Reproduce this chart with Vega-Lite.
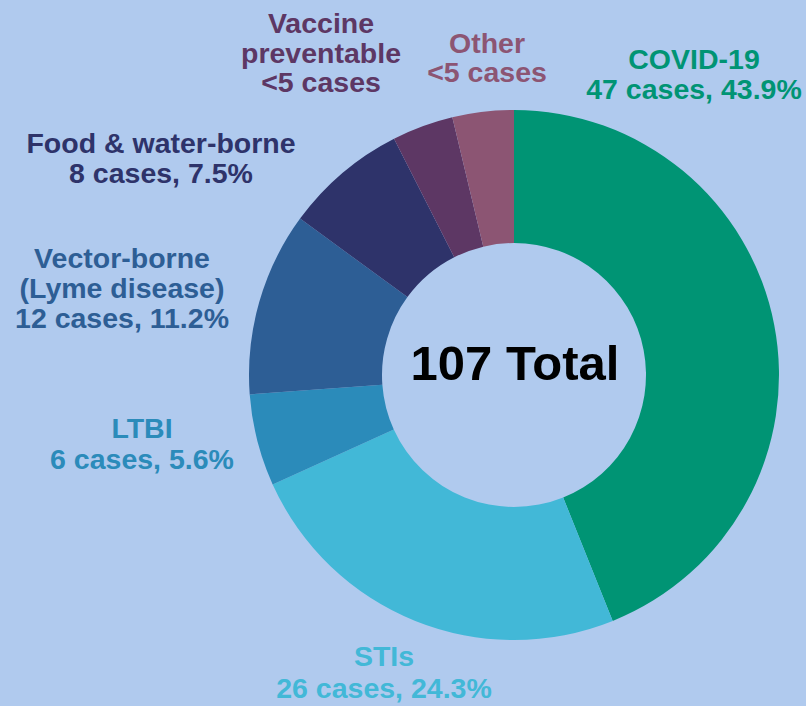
{
  "$schema": "https://vega.github.io/schema/vega-lite/v6.json",
  "width": 584,
  "height": 662,
  "padding": {"left": 222, "top": 44, "right": 0, "bottom": 0},
  "autosize": {"type": "none"},
  "background": "#b0caee",
  "config": {"view": {"stroke": null}, "text": {"font": "Liberation Sans"}},
  "data": {
    "values": [
      {"category": "COVID-19", "cases": 47, "order": 1, "label": "COVID-19\n47 cases, 43.9%"},
      {"category": "STIs", "cases": 26, "order": 2, "label": "STIs\n26 cases, 24.3%"},
      {"category": "LTBI", "cases": 6, "order": 3, "label": "LTBI\n6 cases, 5.6%"},
      {"category": "Vector-borne", "cases": 12, "order": 4, "label": "Vector-borne\n(Lyme disease)\n12 cases, 11.2%"},
      {"category": "Food & water-borne", "cases": 8, "order": 5, "label": "Food & water-borne\n8 cases, 7.5%"},
      {"category": "Vaccine preventable", "cases": 4, "order": 6, "label": "Vaccine\npreventable\n<5 cases"},
      {"category": "Other", "cases": 4, "order": 7, "label": "Other\n<5 cases"}
    ]
  },
  "layer": [
    {
      "mark": {"type": "arc", "innerRadius": 132, "outerRadius": 265},
      "encoding": {
        "theta": {"field": "cases", "type": "quantitative", "stack": true},
        "order": {"field": "order", "type": "quantitative"},
        "color": {
          "field": "category",
          "type": "nominal",
          "scale": {
            "domain": ["COVID-19", "STIs", "LTBI", "Vector-borne", "Food & water-borne", "Vaccine preventable", "Other"],
            "range": ["#009474", "#42b8d7", "#2b8bba", "#2d5e95", "#2e336a", "#5d3764", "#8c5573"]
          },
          "legend": null
        }
      }
    },
    {
      "transform": [{"filter": "datum.category === 'COVID-19'"}],
      "mark": {"type": "text", "dx": 180, "dy": -306, "align": "center", "baseline": "alphabetic", "fontSize": 28.5, "fontWeight": "bold", "lineHeight": 30, "lineBreak": "\n"},
      "encoding": {"text": {"field": "label"}, "color": {"field": "category", "type": "nominal", "legend": null}}
    },
    {
      "transform": [{"filter": "datum.category === 'STIs'"}],
      "mark": {"type": "text", "dx": -130, "dy": 291, "align": "center", "baseline": "alphabetic", "fontSize": 28.5, "fontWeight": "bold", "lineHeight": 32, "lineBreak": "\n"},
      "encoding": {"text": {"field": "label"}, "color": {"field": "category", "type": "nominal", "legend": null}}
    },
    {
      "transform": [{"filter": "datum.category === 'LTBI'"}],
      "mark": {"type": "text", "dx": -372, "dy": 63, "align": "center", "baseline": "alphabetic", "fontSize": 28.5, "fontWeight": "bold", "lineHeight": 31, "lineBreak": "\n"},
      "encoding": {"text": {"field": "label"}, "color": {"field": "category", "type": "nominal", "legend": null}}
    },
    {
      "transform": [{"filter": "datum.category === 'Vector-borne'"}],
      "mark": {"type": "text", "dx": -392, "dy": -107, "align": "center", "baseline": "alphabetic", "fontSize": 28.5, "fontWeight": "bold", "lineHeight": 30, "lineBreak": "\n"},
      "encoding": {"text": {"field": "label"}, "color": {"field": "category", "type": "nominal", "legend": null}}
    },
    {
      "transform": [{"filter": "datum.category === 'Food & water-borne'"}],
      "mark": {"type": "text", "dx": -353, "dy": -222, "align": "center", "baseline": "alphabetic", "fontSize": 28.5, "fontWeight": "bold", "lineHeight": 30, "lineBreak": "\n"},
      "encoding": {"text": {"field": "label"}, "color": {"field": "category", "type": "nominal", "legend": null}}
    },
    {
      "transform": [{"filter": "datum.category === 'Vaccine preventable'"}],
      "mark": {"type": "text", "dx": -193, "dy": -342, "align": "center", "baseline": "alphabetic", "fontSize": 28.5, "fontWeight": "bold", "lineHeight": 29.5, "lineBreak": "\n"},
      "encoding": {"text": {"field": "label"}, "color": {"field": "category", "type": "nominal", "legend": null}}
    },
    {
      "transform": [{"filter": "datum.category === 'Other'"}],
      "mark": {"type": "text", "dx": -27, "dy": -322, "align": "center", "baseline": "alphabetic", "fontSize": 28.5, "fontWeight": "bold", "lineHeight": 29, "lineBreak": "\n"},
      "encoding": {"text": {"field": "label"}, "color": {"field": "category", "type": "nominal", "legend": null}}
    },
    {
      "data": {"values": [{"centre": "107 Total"}]},
      "mark": {"type": "text", "dx": 1, "dy": 5, "align": "center", "baseline": "alphabetic", "fontSize": 49, "fontWeight": "bold", "color": "#000000"},
      "encoding": {"text": {"field": "centre"}}
    }
  ]
}
